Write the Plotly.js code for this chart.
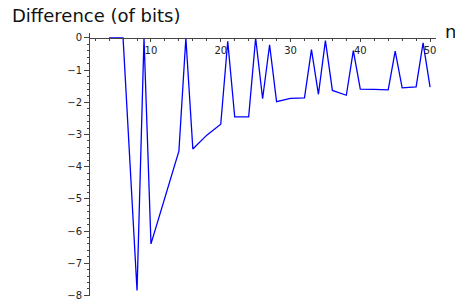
<!DOCTYPE html>
<html>
<head>
<meta charset="utf-8">
<script src="https://cdn.plot.ly/plotly-3.0.1.min.js"></script>
<style>html,body{margin:0;padding:0;background:#fff;}#chart{width:455px;height:301px;}</style>
</head>
<body>
<div id="chart"></div>
<script>
var n = [4,6,8,9,10,12,14,15,16,18,20,21,22,24,25,26,27,28,30,32,33,34,35,36,38,39,40,42,44,45,46,48,49,50];
var diff = [0,0,-7.85,0,-6.4,-4.95,-3.52,0,-3.45,-3.02,-2.68,-0.1,-2.45,-2.45,0,-1.89,-0.21,-1.98,-1.88,-1.86,-0.36,-1.75,-0.08,-1.63,-1.78,-0.39,-1.59,-1.6,-1.61,-0.41,-1.55,-1.52,-0.15,-1.53];
var yLabel = "Difference (of bits)";
var xLabel = "n";

var yMin = -8.02, yMax = 0.155;
var axisColor = "#444";
var tickFont = {family: "DejaVu Sans", size: 10, color: "#222"};

var trace = {
  x: n, y: diff, type: "scatter", mode: "lines",
  line: {color: "#0000ff", width: 1.3},
  hoverinfo: "none"
};

var layout = {
  width: 455, height: 301,
  margin: {l: 90, r: 19, t: 33, b: 5},
  paper_bgcolor: "#fff", plot_bgcolor: "#fff",
  showlegend: false,
  xaxis: {
    range: [1.26, 50.85],
    anchor: "free",
    position: (0 - yMin) / (yMax - yMin),
    showline: true, linecolor: axisColor, linewidth: 1,
    showgrid: false, zeroline: false,
    ticks: "outside", ticklen: 3.5, tickwidth: 1, tickcolor: axisColor,
    tick0: 0, dtick: 10,
    minor: {dtick: 2, tick0: 0, ticks: "outside", ticklen: 2.5, tickcolor: axisColor, showgrid: false},
    tickfont: tickFont
  },
  yaxis: {
    range: [yMin, yMax],
    showline: true, linecolor: axisColor, linewidth: 1,
    showgrid: false, zeroline: false,
    ticks: "outside", ticklen: 5, tickwidth: 1, tickcolor: axisColor,
    tick0: 0, dtick: 1,
    minor: {dtick: 0.2, tick0: 0, ticks: "outside", ticklen: 2.5, tickcolor: axisColor, showgrid: false},
    tickfont: tickFont
  },
  annotations: [
    {text: yLabel, xref: "paper", yref: "paper", x: -80/346, y: 1 + 18/263,
     xanchor: "left", yanchor: "middle", showarrow: false,
     font: {family: "DejaVu Sans", size: 18, color: "#111"}},
    {text: xLabel, xref: "paper", yref: "paper", x: 1 + 14/346, y: (0 - yMin) / (yMax - yMin) + 6/263,
     xanchor: "center", yanchor: "middle", showarrow: false,
     font: {family: "DejaVu Sans", size: 18, color: "#111"}}
  ]
};

Plotly.newPlot("chart", [trace], layout, {staticPlot: true, displayModeBar: false});
</script>
</body>
</html>
